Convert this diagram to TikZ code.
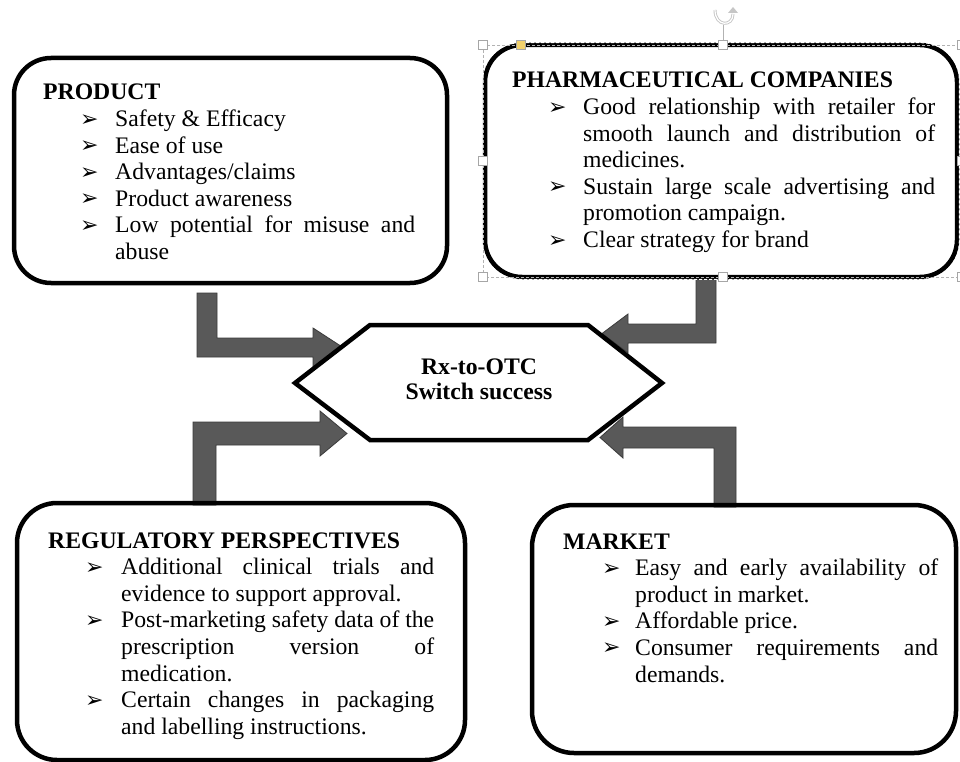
\documentclass[tikz,border=0pt]{standalone}
\usepackage{fontspec}
\setmainfont{Liberation Serif}
\newfontfamily\dejavu{DejaVu Sans}
\newcommand\bul{\raisebox{0.5pt}{\dejavu\fontsize{22}{22}\selectfont ➢}}
\newlength\bulOff \newlength\txtOff \newlength\txtW
\newcommand\tline[1]{\hbox{#1}}
\newcommand\itemL[1]{\hspace*{\bulOff}\makebox[\dimexpr\txtOff-\bulOff\relax][l]{\bul}#1}
\newcommand\itemJ[1]{\hspace*{\bulOff}\makebox[\dimexpr\txtOff-\bulOff\relax][l]{\bul}\makebox[\txtW][s]{#1}}
\newcommand\contL[1]{\hspace*{\txtOff}#1}
\newcommand\contJ[1]{\hspace*{\txtOff}\makebox[\txtW][s]{#1}}
\definecolor{arrfill}{HTML}{595959}
\definecolor{arrline}{HTML}{3A3A3A}
\definecolor{hdl}{HTML}{F2D16B}
\tikzset{
  rbox/.style={draw=black, line width=4.5pt, inner sep=0pt},
  txt/.style={anchor=base west, inner sep=0pt, font=\fontsize{23.7}{26.6}\selectfont},
  blockarrow/.style={fill=arrfill, draw=arrline, line width=0.8pt, line join=miter},
  hexline/.style={draw=black, fill=white, line width=4.5pt, line join=miter},
  handle/.style={draw=gray!70, fill=white, line width=0.8pt, minimum size=9pt, inner sep=0pt},
}
\begin{document}
\begin{tikzpicture}[x=1pt, y=-1pt]
\clip (0,0) rectangle (960,762);
\fill[white] (0,0) rectangle (960,762);

% block arrows
\draw[blockarrow] (197,293) -- (217,293) -- (217,338) -- (313,338) -- (313,328) -- (343,347.5) -- (313,367) -- (313,357) -- (197,357) -- cycle;
\draw[blockarrow] (193,505) -- (193,422) -- (320,422) -- (320,411) -- (347,433.5) -- (320,456) -- (320,445) -- (216,445) -- (216,505) -- cycle;
\draw[blockarrow] (716,276) -- (716,343) -- (628,343) -- (628,353) -- (602,333.5) -- (628,314) -- (628,324) -- (696,324) -- (696,276) -- cycle;
\draw[blockarrow] (736,507) -- (736,427) -- (623,427) -- (623,417) -- (600,437.5) -- (623,458) -- (623,448) -- (714,448) -- (714,507) -- cycle;

% boxes
\node[rbox, rounded corners=37pt, minimum width=433pt, minimum height=225pt] (product) at (230.5,170.5) {};
\node[rbox, rounded corners=37pt, minimum width=472pt, minimum height=232pt] (pharma) at (721,161) {};
\node[rbox, rounded corners=40pt, minimum width=448pt, minimum height=257pt] (regul) at (241,631.5) {};
\node[rbox, rounded corners=42pt, minimum width=424pt, minimum height=248pt] (market) at (744,629) {};

% hexagon
\draw[hexline] (295,383) -- (370,325) -- (588,325) -- (662,383) -- (588,440) -- (370,440) -- cycle;
\node[align=center, inner sep=0pt, font=\bfseries\fontsize{23.7}{25}\selectfont] (hub) at (479,379) {Rx-to-OTC\\Switch success};

% texts
\setlength\bulOff{37pt}\setlength\txtOff{72pt}\setlength\txtW{300pt}
\node[txt] (prodtxt) at (43,100) {\vtop{%
\tline{\textbf{PRODUCT}}
\tline{\itemL{Safety \& Efficacy}}
\tline{\itemL{Ease of use}}
\tline{\itemL{Advantages/claims}}
\tline{\itemL{Product awareness}}
\tline{\itemJ{Low potential for misuse and}}
\tline{\contL{abuse}}}};

\setlength\bulOff{36pt}\setlength\txtOff{71pt}\setlength\txtW{352pt}
\node[txt] (pharmatxt) at (512,88) {\vtop{%
\tline{\textbf{PHARMACEUTICAL COMPANIES}}
\tline{\itemJ{Good relationship with retailer for}}
\tline{\contJ{smooth launch and distribution of}}
\tline{\contL{medicines.}}
\tline{\itemJ{Sustain large scale advertising and}}
\tline{\contL{promotion campaign.}}
\tline{\itemL{Clear strategy for brand}}}};

\setlength\bulOff{37pt}\setlength\txtOff{73pt}\setlength\txtW{313pt}
\node[txt] (regtxt) at (48,548) {\vtop{%
\tline{\textbf{REGULATORY PERSPECTIVES}}
\tline{\itemJ{Additional clinical trials and}}
\tline{\contL{evidence to support approval.}}
\tline{\itemJ{Post-marketing safety data of the}}
\tline{\contJ{prescription version of}}
\tline{\contL{medication.}}
\tline{\itemJ{Certain changes in packaging}}
\tline{\contL{and labelling instructions.}}}};

\setlength\bulOff{39pt}\setlength\txtOff{72pt}\setlength\txtW{303pt}
\node[txt] (marktxt) at (563,549) {\vtop{%
\tline{\textbf{MARKET}}
\tline{\itemJ{Easy and early availability of}}
\tline{\contL{product in market.}}
\tline{\itemL{Affordable price.}}
\tline{\itemJ{Consumer requirements and}}
\tline{\contL{demands.}}}};

% selection overlay on the pharmaceutical box
\draw[white, line width=1pt, dash pattern=on 3pt off 2pt, rounded corners=37pt] (pharma.north west) rectangle (pharma.south east);
\draw[gray!60, line width=0.8pt, dash pattern=on 3pt off 2pt] (483,45) rectangle (962,277);
\draw[gray!60, line width=0.8pt] (723,40) -- (723,25);
\draw[gray!45, line width=3pt] (715,10) .. controls (715,27) and (733,27) .. (733,14);
\draw[white, line width=1.2pt] (715,10) .. controls (715,27) and (733,27) .. (733,14);
\fill[gray!45] (728,13) -- (738,13) -- (733,7) -- cycle;
\node[handle] (h1) at (483,45) {};
\node[handle] (h2) at (723,45) {};
\node[handle] (h3) at (483,161) {};
\node[handle] (h4) at (483,277) {};
\node[handle] (h5) at (723,277) {};
\node[handle] (h6) at (962,161) {};
\node[handle] (h7) at (962,45) {};
\node[handle] (h8) at (962,277) {};
\node[handle, fill=hdl] (hy) at (521,45) {};
\end{tikzpicture}
\end{document}
